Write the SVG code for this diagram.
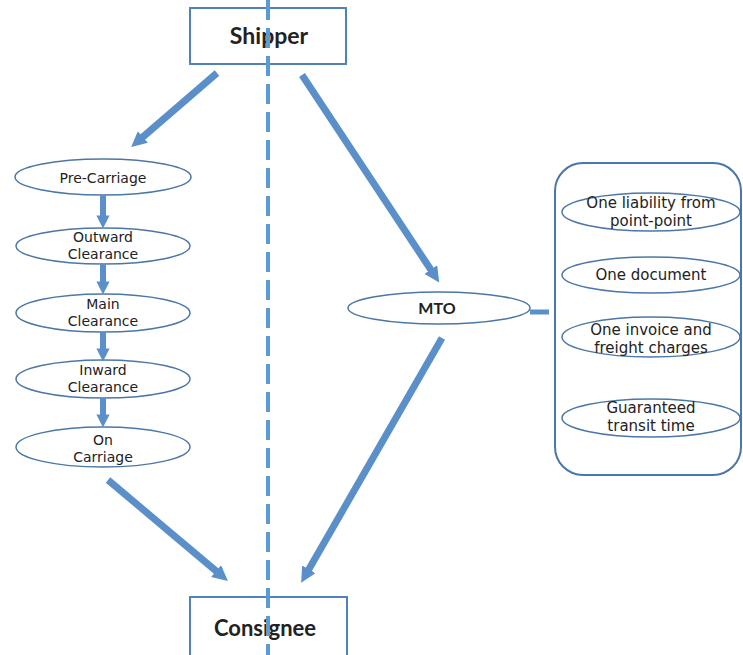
<svg xmlns="http://www.w3.org/2000/svg" width="743" height="655" viewBox="0 0 743 655">
<defs>
<marker id="ah" viewBox="0 0 10 10" refX="5" refY="5" markerWidth="2.2" markerHeight="2.2" orient="auto" markerUnits="strokeWidth">
<path d="M0,0 L10,5 L0,10 z" fill="#5b8fc9"/>
</marker>
<style>
.box{fill:#fff;stroke:#4f81bd;stroke-width:2}
.ell{fill:#fff;stroke:#4a77a8;stroke-width:1.5}
.t{font-family:Lato,"Open Sans",sans-serif;fill:#222;text-anchor:middle}
.d{font-family:"DejaVu Sans","Open Sans",sans-serif;fill:#222;text-anchor:middle}
.s{font-size:14px}
.r{font-size:15px}
.b{font-weight:bold}
.arr{stroke:#5b8fc9;stroke-width:7;fill:none;marker-end:url(#ah)}
.varr{stroke:#5b8fc9;stroke-width:6;fill:none;marker-end:url(#ah)}
</style>
</defs>
<rect width="743" height="655" fill="#fff"/>
<g id="shipper">
<rect class="box" x="190" y="8" width="156" height="56"/>
<text class="t b" x="269" y="44" font-size="23">Shipper</text>
</g>
<g id="consignee">
<rect class="box" x="190" y="597" width="157" height="70"/>
<text class="t b" x="265" y="636" font-size="22">Consignee</text>
</g>
<g id="pre-carriage">
<ellipse class="ell" cx="103" cy="177" rx="88" ry="18"/>
<text class="d s" x="103" y="183">Pre-Carriage</text>
</g>
<g id="outward">
<ellipse class="ell" cx="103" cy="246" rx="87" ry="18"/>
<text class="d s" x="103" y="242">Outward</text>
<text class="d s" x="103" y="259">Clearance</text>
</g>
<g id="main">
<ellipse class="ell" cx="103" cy="313" rx="87" ry="19"/>
<text class="d s" x="103" y="309">Main</text>
<text class="d s" x="103" y="326">Clearance</text>
</g>
<g id="inward">
<ellipse class="ell" cx="103" cy="379" rx="87" ry="19"/>
<text class="d s" x="103" y="375">Inward</text>
<text class="d s" x="103" y="392">Clearance</text>
</g>
<g id="on-carriage">
<ellipse class="ell" cx="103" cy="447" rx="87" ry="20"/>
<text class="d s" x="103" y="445">On</text>
<text class="d s" x="103" y="462">Carriage</text>
</g>
<g id="mto">
<ellipse class="ell" cx="439" cy="308" rx="91" ry="16"/>
<text class="t b" x="437" y="314" font-size="16">MTO</text>
</g>
<g id="benefits">
<rect x="555" y="163" width="186" height="312" rx="28" ry="28" fill="#fff" stroke="#4a77a8" stroke-width="2"/>
<ellipse class="ell" cx="651" cy="212" rx="89" ry="19"/>
<text class="d r" x="651" y="208">One liability from</text>
<text class="d r" x="651" y="226">point-point</text>
<ellipse class="ell" cx="651" cy="275" rx="89" ry="18"/>
<text class="d r" x="651" y="280">One document</text>
<ellipse class="ell" cx="651" cy="337" rx="89" ry="20"/>
<text class="d r" x="651" y="335">One invoice and</text>
<text class="d r" x="651" y="353">freight charges</text>
<ellipse class="ell" cx="651" cy="418" rx="89" ry="19"/>
<text class="d r" x="651" y="413">Guaranteed</text>
<text class="d r" x="651" y="431">transit time</text>
</g>
<g id="connectors">
<line x1="268" y1="0" x2="268" y2="655" stroke="#5b9bd5" stroke-width="4" stroke-dasharray="20,8"/>
<line class="arr" x1="217" y1="73" x2="137" y2="142"/>
<line class="arr" x1="302" y1="75" x2="435" y2="276"/>
<line class="arr" x1="442" y1="338" x2="305" y2="576"/>
<line class="arr" x1="108" y1="480" x2="222" y2="576"/>
<line class="varr" x1="103" y1="195" x2="103" y2="222"/>
<line class="varr" x1="103" y1="264" x2="103" y2="288"/>
<line class="varr" x1="103" y1="332" x2="103" y2="355"/>
<line class="varr" x1="103" y1="398" x2="103" y2="421"/>
<line x1="530" y1="312" x2="549" y2="312" stroke="#5b8fc9" stroke-width="5"/>
</g>
</svg>
